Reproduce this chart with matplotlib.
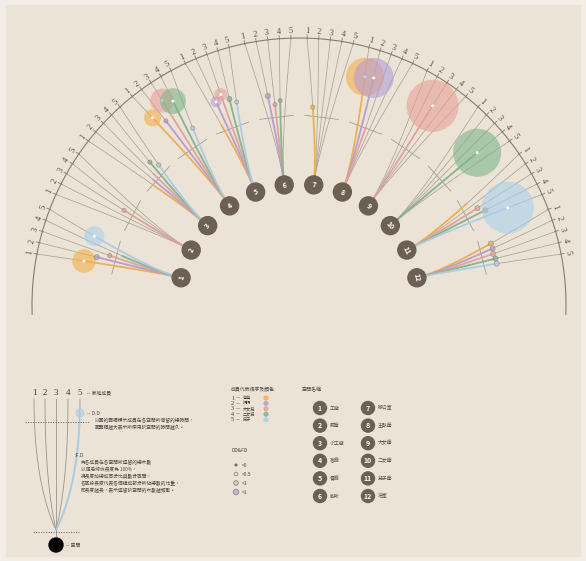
import numpy as np
import matplotlib.pyplot as plt
from matplotlib.patches import Circle, Rectangle

plt.rcParams['font.family'] = ['Noto Sans CJK TC', 'DejaVu Sans']

members = ['爸爸', '媽媽', '大女兒', '二女兒', '兒子']
member_colors = ['#f5b043', '#b59bd8', '#e8a098', '#7db68b', '#a9d0ec']
spaces = ['工廠', '廚房', '小工廠', '客廳', '餐廳', '廁所',
          '辦公室', '主臥房', '大女房', '二女房', '兒子房', '浴室']

# F.D: share of visits, one row per space, one column per member
fd = np.array([
    [.75, .65, .55, .45, .72],
    [0, 0, .58, 0, 0],
    [.50, .52, .55, .64, .57],
    [.90, .81, .97, .92, .64],
    [.55, .75, .79, .73, .69],
    [0, .68, .60, .63, 0],
    [.57, 0, 0, 0, 0],
    [.90, .91, .50, 0, 0],
    [0, 0, .92, 0, 0],
    [0, 0, 0, .875, 0],
    [.55, 0, .61, .66, .84],
    [.60, .60, .59, .60, .60],
])
# D.D: share of time spent
dd = np.array([
    [.19, .0086, .0055, 0, .137],
    [0, 0, .006, 0, 0],
    [0, 0, 0, .006, .006],
    [.10, .0055, .20, .23, .0055],
    [0, .04, .058, .0086, .0055],
    [0, .0086, .0055, .0055, 0],
    [.0055, 0, 0, 0, 0],
    [.50, .55, 0, 0, 0],
    [0, 0, .93, 0, 0],
    [0, 0, 0, .79, 0],
    [0, 0, .0086, .0086, .93],
    [.0086, .0086, .0086, .0086, .0086],
])

dd_labels = ['=0', '<0.5', '<1', '=1']

dd_text = ['以圓的面積標示成員在各空間所停留的總時間，',
           '圓面積越大表示所使用該空間的時間越久。']
fd_text = ['為各成員在各空間所逗留的總次數',
           '以肥皂線條長度為 100%，',
           '將長度加總成百分比與數分區間，',
           '各區段長度代表各個構成部分所佔總數的比重，',
           '即長度越長，表示逗留該空間的次數越頻繁。']

# geometry (pixels)
CX, CY = 299, 305
R_ARC = 267
R_BADGE = 121
R_CTRL = 155
R_CROSS = 189
R_FD0, R_FD1 = 130, 250
TICK_STEP = 2.5
GAP = (158 - 12 * 4 * TICK_STEP) / 11

BADGE = '#6c6053'
GRAY = '#aaa296'
BG = '#ebe4d6'
TXT = '#4f4940'


def pt(r, a):
    a = np.radians(a)
    return CX + r * np.cos(a), CY - r * np.sin(a)


fig = plt.figure(figsize=(5.86, 5.61), dpi=100, facecolor='#f2eee7')
ax = fig.add_axes([0, 0, 1, 1])
ax.set_xlim(0, 586)
ax.set_ylim(561, 0)
ax.axis('off')
ax.add_patch(Rectangle((6, 5), 574, 551, color=BG, zorder=0))

# outer arc
aa = np.linspace(-2, 182, 400)
ax.plot(*pt(R_ARC, aa), color='#857c70', lw=0.8, zorder=1)

t = np.linspace(0, 1, 300)[:, None]
for g in range(12):
    phi = 167 - 14 * g
    p0 = np.array(pt(R_BADGE, phi))
    p1 = np.array(pt(R_CTRL, phi))
    cross_ang = []
    for m in range(5):
        theta = 169 - g * (4 * TICK_STEP + GAP) - m * TICK_STEP
        p2 = np.array(pt(R_ARC, theta))
        pts = (1 - t) ** 2 * p0 + 2 * t * (1 - t) * p1 + t ** 2 * p2
        ax.plot(pts[:, 0], pts[:, 1], color=GRAY, lw=0.55, zorder=1)
        rr = np.hypot(pts[:, 0] - CX, pts[:, 1] - CY)
        k = np.argmin(np.abs(rr - R_CROSS))
        cross_ang.append(np.degrees(np.arctan2(CY - pts[k, 1], pts[k, 0] - CX)))

        # tick mark and label
        ax.plot(*pt(np.array([R_ARC - 1, R_ARC + 3]), theta), color='#857c70', lw=0.6)
        lx, ly = pt(R_ARC + 7, theta)
        ax.text(lx, ly, str(m + 1), rotation=theta - 90, ha='center', va='center',
                fontsize=6, family='Liberation Serif', color=TXT)

        c = member_colors[m]
        if fd[g, m] > 0:
            r_end = R_FD0 + fd[g, m] * (R_FD1 - R_FD0)
            sel = rr <= r_end
            ax.plot(pts[sel, 0], pts[sel, 1], color=c, lw=1.4, alpha=0.85,
                    solid_capstyle='round', zorder=2)
            e = pts[sel][-1]
            if dd[g, m] > 0:
                rad = 27 * np.sqrt(dd[g, m])
                if rad < 4:
                    ax.add_patch(Circle(e, rad, facecolor=c, alpha=0.7,
                                        edgecolor='#8f877c', lw=0.6, zorder=3))
                else:
                    ax.add_patch(Circle(e, rad, facecolor=c, alpha=0.6,
                                        edgecolor='none', zorder=3))
                    ax.add_patch(Circle(e, 0.8, color='white', zorder=3))

    # 100% cross line
    ca = np.mean(cross_ang)
    cx0, cy0 = pt(R_CROSS, ca)
    tx, ty = -np.sin(np.radians(ca)), -np.cos(np.radians(ca))
    ax.plot([cx0 - 17 * tx, cx0 + 17 * tx], [cy0 - 17 * ty, cy0 + 17 * ty],
            color='#a59d91', lw=0.6, zorder=1)

    bx, by = pt(R_BADGE, phi)
    ax.add_patch(Circle((bx, by), 9, color=BADGE, zorder=4))
    ax.text(bx, by, str(g + 1), rotation=phi - 90, ha='center', va='center',
            fontsize=5, color='white', fontweight='bold', zorder=5)

# ---- left legend
lx0 = [34, 45, 56, 68, 80]
conv = np.array([56, 530])
for i, x in enumerate(lx0):
    ax.text(x, 393, str(i + 1), ha='center', va='center', fontsize=6.5,
            family='Liberation Serif', color='#3f3a33')
    q0 = np.array([x, 399])
    q1 = np.array([x, 482])
    pts = (1 - t) ** 2 * q0 + 2 * t * (1 - t) * q1 + t ** 2 * conv
    ax.plot(pts[:, 0], pts[:, 1], color='#9b9388', lw=0.6, zorder=1)
    if i == 4:
        sel = pts[:, 1] >= 413
        ax.plot(pts[sel, 0], pts[sel, 1], color=member_colors[4], lw=1.6, alpha=0.85, zorder=2)
ax.add_patch(Circle((80, 413), 4, color=member_colors[4], alpha=0.6, zorder=3))
ax.plot([56, 56], [530, 545], color='#9b9388', lw=0.6)
ax.plot([25, 90], [422, 422], color='#6f675c', lw=0.6, ls=(0, (1.5, 1.5)))
ax.plot([33, 79], [532, 532], color='#6f675c', lw=0.6, ls=(0, (1.5, 1.5)))
ax.add_patch(Circle((56, 545), 7, color='black', zorder=4))
ax.text(66, 545, '-- 空間', fontsize=3.5, va='center', color=TXT)
ax.text(87, 393, '-- 家庭成員', fontsize=3.5, va='center', color=TXT)
ax.text(87, 413, '-- D.D', fontsize=3.5, va='center', color=TXT)
for i, s in enumerate(dd_text):
    ax.text(95, 420 + 7 * i, s, fontsize=3.4, va='center', color=TXT)
ax.text(75, 455, ':F.D', fontsize=3.8, va='center', color=TXT)
for i, s in enumerate(fd_text):
    ax.text(81, 462 + 7 * i, s, fontsize=3.4, va='center', color=TXT)

# ---- member legend
ax.text(231, 390, '成員代表順序及顏色', fontsize=3.5, va='center', color=TXT)
for i, name in enumerate(members):
    y = 398 + 5.4 * i
    ax.text(231, y, str(i + 1), fontsize=4.5, va='center',
            family='Liberation Serif', color='#3f3a33')
    ax.text(236, y, '—', fontsize=3.2, va='center', color='#3f3a33')
    ax.text(243, y, name, fontsize=3.0, va='center', color='#3f3a33')
    ax.add_patch(Circle((266, y), 1.9, color=member_colors[i], alpha=0.8))
ax.text(231, 450, 'DD&FD', fontsize=3.6, va='center', color=TXT)
for i, lab in enumerate(dd_labels):
    y = 465 + 9 * i
    rad = [0.8, 1.8, 2.3, 2.8][i]
    if i == 0:
        ax.add_patch(Circle((236, y), rad, color='#6f675c'))
    else:
        ax.add_patch(Circle((236, y), rad, facecolor=['none', '#d4ccc0', '#c2b8c8'][i - 1],
                            edgecolor='#8f877c', lw=0.6))
    ax.text(242, y, lab, fontsize=3.5, va='center', color=TXT)

# ---- space legend
ax.text(302, 390, '空間名稱', fontsize=3.6, va='center', color=TXT)
for g, name in enumerate(spaces):
    col, row = divmod(g, 6)
    x = 320 + 48 * col
    y = 408 + 17.6 * row
    ax.add_patch(Circle((x, y), 6.5, color=BADGE))
    ax.text(x, y, str(g + 1), ha='center', va='center', fontsize=5, color='white',
            fontweight='bold')
    ax.text(x + 10, y, name, fontsize=3.5, va='center', color=TXT)

fig.savefig('out.png', dpi=100, facecolor=fig.get_facecolor())
